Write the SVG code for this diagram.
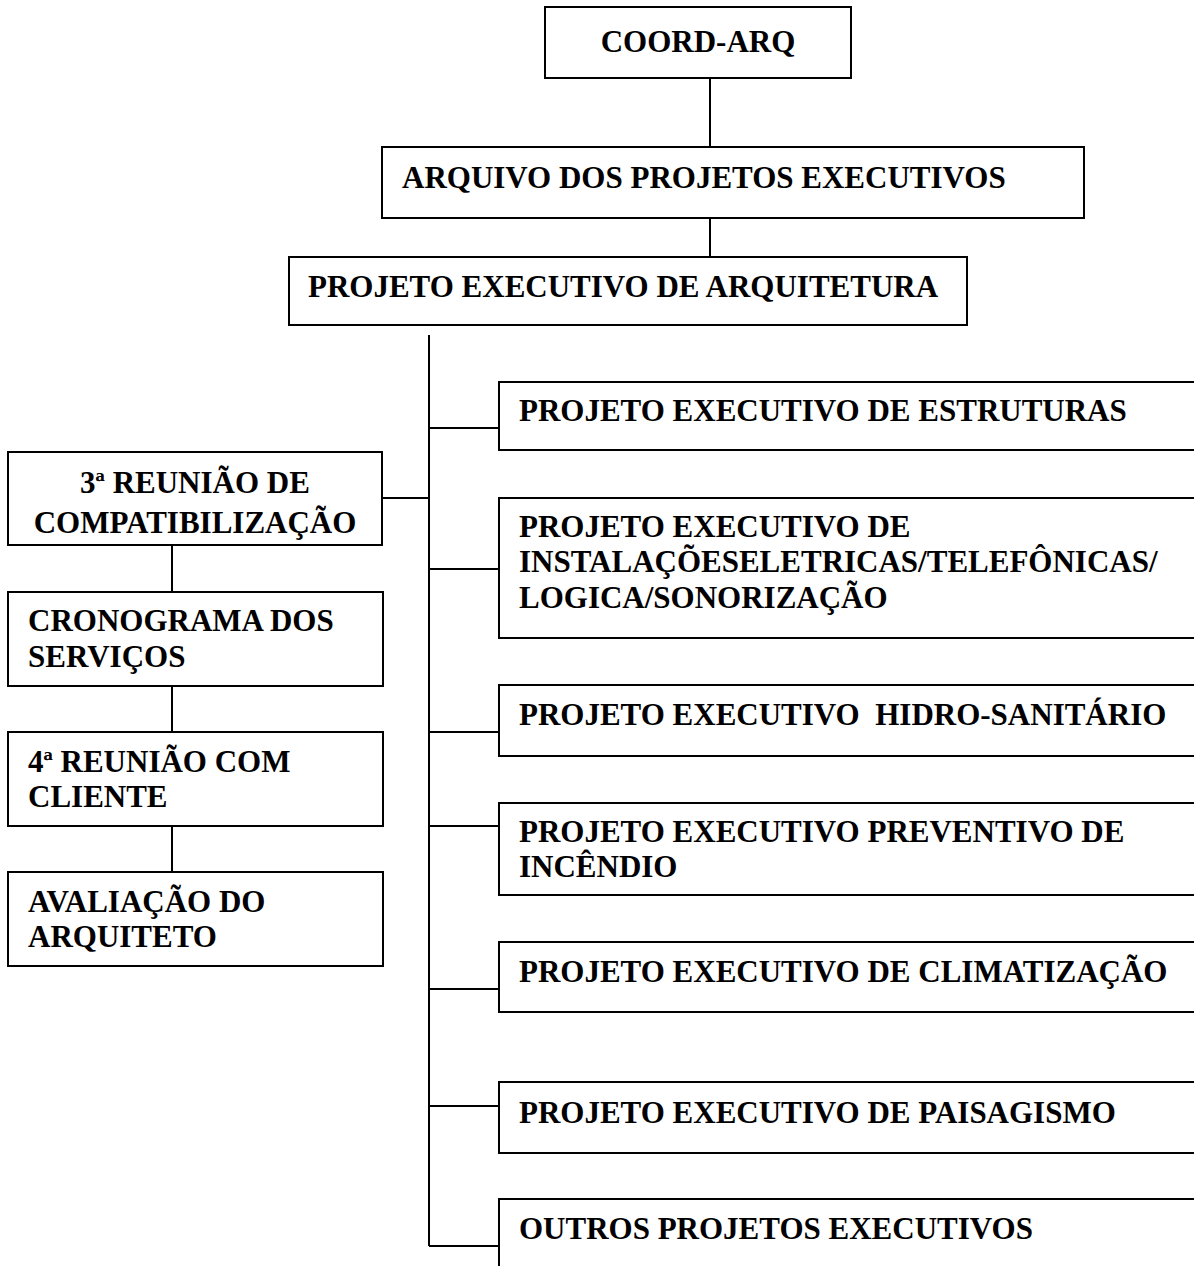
<svg xmlns="http://www.w3.org/2000/svg" width="1194" height="1266" viewBox="0 0 1194 1266">
  <style>
    .box { fill: #ffffff; stroke: #000000; stroke-width: 2; }
    .lbl { font-family: "Liberation Serif", "Times New Roman", serif; font-weight: bold; font-size: 31px; fill: #000000; white-space: pre; }
    .mid { text-anchor: middle; }
    .wire { stroke: #000000; stroke-width: 2; fill: none; }
  </style>
  <rect width="1194" height="1266" fill="#ffffff"/>

  <!-- connectors -->
  <g id="connectors">
    <line class="wire" x1="710" y1="78" x2="710" y2="147"/>
    <line class="wire" x1="710" y1="218" x2="710" y2="257"/>
    <line class="wire" x1="429" y1="335" x2="429" y2="1246"/>
    <line class="wire" x1="382" y1="498" x2="429" y2="498"/>
    <line class="wire" x1="429" y1="428" x2="499" y2="428"/>
    <line class="wire" x1="429" y1="569" x2="499" y2="569"/>
    <line class="wire" x1="429" y1="732" x2="499" y2="732"/>
    <line class="wire" x1="429" y1="826" x2="499" y2="826"/>
    <line class="wire" x1="429" y1="989" x2="499" y2="989"/>
    <line class="wire" x1="429" y1="1106" x2="499" y2="1106"/>
    <line class="wire" x1="429" y1="1246" x2="499" y2="1246"/>
    <line class="wire" x1="172" y1="545" x2="172" y2="592"/>
    <line class="wire" x1="172" y1="686" x2="172" y2="732"/>
    <line class="wire" x1="172" y1="826" x2="172" y2="872"/>
  </g>

  <!-- top chain -->
  <g id="coord-arq">
    <rect class="box" x="545" y="7" width="306" height="71"/>
    <text class="lbl mid" x="698" y="52">COORD-ARQ</text>
  </g>
  <g id="arquivo">
    <rect class="box" x="382" y="147" width="702" height="71"/>
    <text class="lbl" x="402" y="188">ARQUIVO DOS PROJETOS EXECUTIVOS</text>
  </g>
  <g id="projeto-arquitetura">
    <rect class="box" x="289" y="257" width="678" height="68"/>
    <text class="lbl" x="308" y="297">PROJETO EXECUTIVO DE ARQUITETURA</text>
  </g>

  <!-- left column -->
  <g id="reuniao-3">
    <rect class="box" x="8" y="452" width="374" height="93"/>
    <text class="lbl mid" x="195" y="493">3ª REUNIÃO DE</text>
    <text class="lbl mid" x="195" y="533">COMPATIBILIZAÇÃO</text>
  </g>
  <g id="cronograma">
    <rect class="box" x="8" y="592" width="375" height="94"/>
    <text class="lbl" x="28" y="631">CRONOGRAMA DOS</text>
    <text class="lbl" x="28" y="667">SERVIÇOS</text>
  </g>
  <g id="reuniao-4">
    <rect class="box" x="8" y="732" width="375" height="94"/>
    <text class="lbl" x="28" y="772">4ª REUNIÃO COM</text>
    <text class="lbl" x="28" y="807">CLIENTE</text>
  </g>
  <g id="avaliacao">
    <rect class="box" x="8" y="872" width="375" height="94"/>
    <text class="lbl" x="28" y="912">AVALIAÇÃO DO</text>
    <text class="lbl" x="28" y="947">ARQUITETO</text>
  </g>

  <!-- right column -->
  <g id="estruturas">
    <rect class="box" x="499" y="382" width="710" height="68"/>
    <text class="lbl" x="519" y="421">PROJETO EXECUTIVO DE ESTRUTURAS</text>
  </g>
  <g id="instalacoes">
    <rect class="box" x="499" y="498" width="710" height="140"/>
    <text class="lbl" x="519" y="537">PROJETO EXECUTIVO DE</text>
    <text class="lbl" x="519" y="572">INSTALAÇÕESELETRICAS/TELEFÔNICAS/</text>
    <text class="lbl" x="519" y="608">LOGICA/SONORIZAÇÃO</text>
  </g>
  <g id="hidro">
    <rect class="box" x="499" y="685" width="710" height="71"/>
    <text class="lbl" x="519" y="725" xml:space="preserve">PROJETO EXECUTIVO  HIDRO-SANITÁRIO</text>
  </g>
  <g id="incendio">
    <rect class="box" x="499" y="803" width="710" height="92"/>
    <text class="lbl" x="519" y="842">PROJETO EXECUTIVO PREVENTIVO DE</text>
    <text class="lbl" x="519" y="877">INCÊNDIO</text>
  </g>
  <g id="climatizacao">
    <rect class="box" x="499" y="942" width="710" height="70"/>
    <text class="lbl" x="519" y="982">PROJETO EXECUTIVO DE CLIMATIZAÇÃO</text>
  </g>
  <g id="paisagismo">
    <rect class="box" x="499" y="1082" width="710" height="71"/>
    <text class="lbl" x="519" y="1123">PROJETO EXECUTIVO DE PAISAGISMO</text>
  </g>
  <g id="outros">
    <rect class="box" x="499" y="1199" width="710" height="90"/>
    <text class="lbl" x="519" y="1239">OUTROS PROJETOS EXECUTIVOS</text>
  </g>
</svg>
